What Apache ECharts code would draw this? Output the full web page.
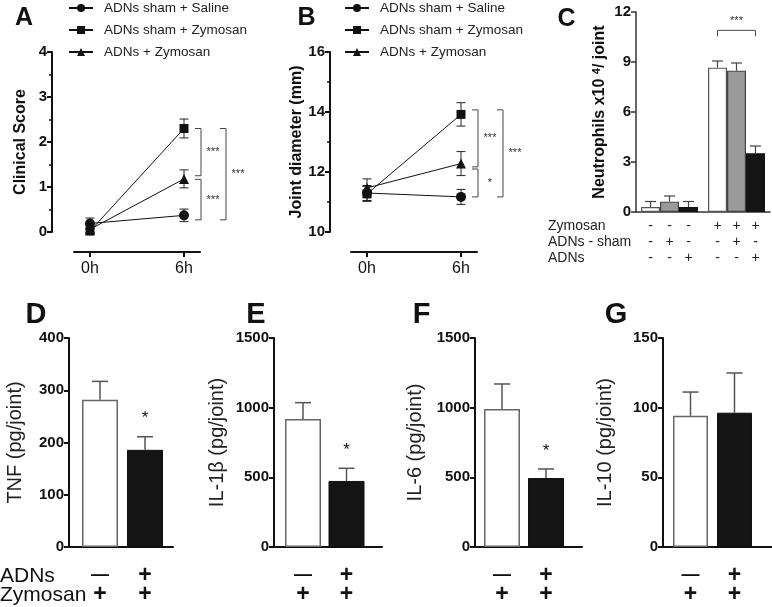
<!DOCTYPE html>
<html><head><meta charset="utf-8">
<script src="https://cdn.jsdelivr.net/npm/echarts@6/dist/echarts.min.js"></script>
<style>html,body{margin:0;padding:0;background:#fff}#c{width:772px;height:607px}</style>
</head><body><div id="c"></div>
<script>
const FONT = "'Liberation Sans', Arial, Helvetica, sans-serif";
// ---------------- Data ----------------
const timeLabels = ['0h', '6h'];
const groupNames = ['ADNs sham + Saline', 'ADNs sham + Zymosan', 'ADNs + Zymosan'];
// Panel A: clinical score
const scoreSaline = [0.19, 0.37];
const scoreSalineErr = [0.12, 0.14];
const scoreSham = [0.02, 2.3];
const scoreShamErr = [0.05, 0.21];
const scoreADNs = [0.06, 1.18];
const scoreADNsErr = [0.08, 0.2];
const scoreSig = [[2.3, 1.25], [1.17, 0.27], [2.3, 0.27]];
const scoreSigLabels = ['***', '***', '***'];
const scoreSigLevel = [0, 0, 1];
// Panel B: joint diameter
const diamSaline = [11.3, 11.17];
const diamSalineErr = [0.25, 0.25];
const diamSham = [11.27, 13.92];
const diamShamErr = [0.25, 0.39];
const diamADNs = [11.47, 12.28];
const diamADNsErr = [0.3, 0.4];
const diamSig = [[14.07, 12.17], [12.1, 11.17], [14.07, 11.17]];
const diamSigLabels = ['***', '*', '***'];
const diamSigLevel = [0, 0, 1];
// Panel C: neutrophils
const zymosanGroups = ['-', '+'];
const neutroControl = [0.3, 8.66];
const neutroControlErr = [0.33, 0.4];
const neutroSham = [0.62, 8.48];
const neutroShamErr = [0.34, 0.46];
const neutroADNs = [0.3, 3.52];
const neutroADNsErr = [0.33, 0.44];
const neutroSigValue = 10.9;
const neutroSigLabel = '***';
const rowNames = ['Zymosan', 'ADNs - sham', 'ADNs'];
const rowZymosan = ['-', '-', '-', '+', '+', '+'];
const rowSham = ['-', '+', '-', '-', '+', '-'];
const rowADNs = ['-', '-', '+', '-', '-', '+'];
// Panels D-G: cytokines
const cytoLetters = ['D', 'E', 'F', 'G'];
const cytoTitles = ['TNF (pg/joint)', 'IL-1β (pg/joint)', 'IL-6 (pg/joint)', 'IL-10 (pg/joint)'];
const cytoMax = [400, 1500, 1500, 150];
const cytoStep = [100, 500, 500, 50];
const tnf = [282, 186];
const tnfErr = [35, 25];
const il1b = [918, 474];
const il1bErr = [118, 91];
const il6 = [990, 495];
const il6Err = [180, 65];
const il10 = [94.2, 96.4];
const il10Err = [17, 28.5];
const cytoStars = [['', '*'], ['', '*'], ['', '*'], ['', '']];
const adnsRow = ['—', '+'];
const zymRow = ['+', '+'];
const bottomRowNames = ['ADNs', 'Zymosan'];

// ---------------- Build ----------------
const AX = '#111';
const chart = echarts.init(document.getElementById('c'));

const cytoVals = [tnf, il1b, il6, il10];
const cytoErrs = [tnfErr, il1bErr, il6Err, il10Err];
const cytoLayout = [
  {left: 69, w: 104, c1: 31, sp: 45, gap: 44, bw: 36},
  {left: 274, w: 108, c1: 29, sp: 43.5, gap: 47, bw: 36},
  {left: 475, w: 107, c1: 27, sp: 44, gap: 50, bw: 36},
  {left: 663, w: 109, c1: 27.5, sp: 44, gap: 48, bw: 35}
];

const grids = [
  {left: 74, top: 52, width: 126, height: 180},
  {left: 351, top: 52, width: 126, height: 180},
  {left: 636, top: 12, width: 134, height: 200}
];
cytoLayout.forEach(l => grids.push({left: l.left, top: 338, width: l.w, height: 209}));

function axisLineStyle(w, c) { return {show: true, onZero: false, lineStyle: {color: c || AX, width: w}}; }
const tickLabel = {color: AX, fontFamily: FONT, fontWeight: 'bold', fontSize: 15, margin: 5, formatter: v => String(v)};

const xAxes = [];
const yAxes = [];
// A & B x axes (detached)
[0, 1].forEach(gi => {
  xAxes.push({
    type: 'value', gridIndex: gi, min: -16 / 94, max: 1 + 16 / 94, offset: 20,
    axisLine: axisLineStyle(2),
    axisTick: {show: true, length: 5, customValues: [0, 1], lineStyle: {color: AX, width: 2}},
    axisLabel: {customValues: [0, 1], formatter: v => timeLabels[v] || '', color: AX, fontFamily: FONT, fontSize: 16, margin: 9},
    splitLine: {show: false}
  });
});
yAxes.push({
  type: 'value', gridIndex: 0, min: 0, max: 4, interval: 1, offset: 22,
  axisLine: axisLineStyle(2),
  axisTick: {show: true, length: 5, lineStyle: {color: AX, width: 2}},
  minorTick: {show: true, splitNumber: 2, length: 3, lineStyle: {color: AX, width: 1.5}},
  axisLabel: tickLabel, splitLine: {show: false},
  name: 'Clinical Score', nameLocation: 'middle', nameGap: 23,
  nameTextStyle: {fontFamily: FONT, fontWeight: 'bold', fontSize: 16, color: AX}
});
yAxes.push({
  type: 'value', gridIndex: 1, min: 10, max: 16, interval: 2, offset: 21,
  axisLine: axisLineStyle(2),
  axisTick: {show: true, length: 5, lineStyle: {color: AX, width: 2}},
  minorTick: {show: true, splitNumber: 2, length: 3, lineStyle: {color: AX, width: 1.5}},
  axisLabel: tickLabel, splitLine: {show: false},
  name: 'Joint diameter (mm)', nameLocation: 'middle', nameGap: 23,
  nameTextStyle: {fontFamily: FONT, fontWeight: 'bold', fontSize: 16, color: AX}
});
// C
xAxes.push({
  type: 'category', gridIndex: 2, data: zymosanGroups,
  axisLine: axisLineStyle(1.5, '#333'), axisTick: {show: false}, axisLabel: {show: false}
});
yAxes.push({
  type: 'value', gridIndex: 2, min: 0, max: 12, interval: 3,
  axisLine: axisLineStyle(1.5, '#333'),
  axisTick: {show: true, length: 5, lineStyle: {color: '#333', width: 1.5}},
  axisLabel: tickLabel, splitLine: {show: false},
  name: '{a|Neutrophils x10 }{s|4}{a|/ joint}', nameLocation: 'middle', nameGap: 27,
  nameTextStyle: {
    fontFamily: FONT, fontWeight: 'bold', fontSize: 16, color: AX,
    rich: {
      a: {fontFamily: FONT, fontWeight: 'bold', fontSize: 16, color: AX, lineHeight: 18},
      s: {fontFamily: FONT, fontWeight: 'bold', fontSize: 11, color: AX, verticalAlign: 'top', padding: [0, 0, 8, 0], lineHeight: 18}
    }
  }
});
// D-G
cytoLayout.forEach((l, k) => {
  const gi = 3 + k;
  xAxes.push({
    type: 'value', gridIndex: gi, min: -l.c1 / l.sp, max: (l.w - l.c1) / l.sp,
    axisLine: axisLineStyle(2),
    axisTick: {show: false},
    axisLabel: {
      customValues: [0, 1], margin: 19,
      formatter: v => '{' + (adnsRow[v] === '—' ? 'd' : 'p') + '|' + adnsRow[v] + '}\n{p|' + zymRow[v] + '}',
      rich: {
        p: {fontFamily: FONT, fontWeight: 'bold', fontSize: 23, lineHeight: 19, color: AX},
        d: {fontFamily: FONT, fontWeight: 'bold', fontSize: 18, lineHeight: 19, color: AX}
      }
    },
    splitLine: {show: false}
  });
  yAxes.push({
    type: 'value', gridIndex: gi, min: 0, max: cytoMax[k], interval: cytoStep[k],
    axisLine: axisLineStyle(2),
    axisTick: {show: true, length: 5, lineStyle: {color: AX, width: 2}},
    axisLabel: tickLabel, splitLine: {show: false},
    name: cytoTitles[k], nameLocation: 'middle', nameGap: l.gap,
    nameTextStyle: {fontFamily: FONT, fontSize: 20, color: '#222'}
  });
});

// renderers
function errorRenderer(cfg) {
  return function (params, api) {
    const x = api.value(0), m = api.value(1), e = api.value(2);
    const c = api.coord([x, m]);
    const top = api.coord([x, m + e])[1];
    const bot = api.coord([x, m - e])[1];
    let cx = c[0];
    if (cfg.barOffset) cx += cfg.barOffset(params, api);
    const h = cfg.cap;
    const ls = {stroke: cfg.color, lineWidth: cfg.width};
    const ch = [
      {type: 'line', shape: {x1: cx, y1: cfg.upOnly ? c[1] : bot, x2: cx, y2: top}, style: ls},
      {type: 'line', shape: {x1: cx - h, y1: top, x2: cx + h, y2: top}, style: ls}
    ];
    if (!cfg.upOnly) ch.push({type: 'line', shape: {x1: cx - h, y1: bot, x2: cx + h, y2: bot}, style: ls});
    if (cfg.stars && cfg.stars[params.dataIndex]) {
      ch.push({type: 'text', style: {text: cfg.stars[params.dataIndex], x: cx, y: top - 18, align: 'center', verticalAlign: 'middle', fontSize: 17, fontFamily: FONT, fill: AX}});
    }
    return {type: 'group', children: ch};
  };
}
function bracketRenderer(pairs, labels, levels) {
  const offs = [17, 42];
  return function (params, api) {
    const i = params.dataIndex;
    const x0 = api.coord([api.value(0), pairs[i][0]])[0];
    const y1 = api.coord([api.value(0), pairs[i][0]])[1];
    const y2 = api.coord([api.value(0), pairs[i][1]])[1];
    const bx = x0 + offs[levels[i]];
    const len = 6;
    return {type: 'group', children: [
      {type: 'polyline', shape: {points: [[bx - len, y1], [bx, y1], [bx, y2], [bx - len, y2]]}, style: {stroke: '#444', lineWidth: 1, fill: null}},
      {type: 'text', style: {text: labels[i], x: bx + 12, y: (y1 + y2) / 2, align: 'center', verticalAlign: 'middle', fontSize: 11, fontFamily: FONT, fill: '#333'}}
    ]};
  };
}

const series = [];
const symbols = ['circle', 'rect', 'triangle'];
const symSizes = [10, 9, 10];
const scoreSets = [[scoreSaline, scoreSalineErr], [scoreSham, scoreShamErr], [scoreADNs, scoreADNsErr]];
const diamSets = [[diamSaline, diamSalineErr], [diamSham, diamShamErr], [diamADNs, diamADNsErr]];
[[scoreSets, 0], [diamSets, 1]].forEach(([sets, gi]) => {
  const errData = [];
  sets.forEach((s, g) => {
    series.push({
      type: 'line', name: groupNames[g], xAxisIndex: gi, yAxisIndex: gi,
      data: s[0].map((v, t) => [t, v]),
      symbol: symbols[g], symbolSize: symSizes[g], showSymbol: true,
      lineStyle: {color: '#111', width: 1}, itemStyle: {color: '#111'}, z: 3
    });
    s[0].forEach((v, t) => errData.push([t, v, s[1][t]]));
  });
  series.push({type: 'custom', xAxisIndex: gi, yAxisIndex: gi, data: errData, z: 2,
    renderItem: errorRenderer({cap: 4.5, color: '#222', width: 1})});
});
series.push({type: 'custom', xAxisIndex: 0, yAxisIndex: 0, data: scoreSig.map(p => [1, p[0]]),
  renderItem: bracketRenderer(scoreSig, scoreSigLabels, scoreSigLevel)});
series.push({type: 'custom', xAxisIndex: 1, yAxisIndex: 1, data: diamSig.map(p => [1, p[0]]),
  renderItem: bracketRenderer(diamSig, diamSigLabels, diamSigLevel)});

// C bars
const cSets = [[neutroControl, neutroControlErr, '#ffffff', '#555'], [neutroSham, neutroShamErr, '#9a9a9a', '#444'], [neutroADNs, neutroADNsErr, '#141414', '#111']];
const barGapFrac = 0.15;
const cOffset = (bi) => (params, api) => (bi - 1) * api.size([1, 0])[0] * (1 - barGapFrac) / 3;
cSets.forEach((s, bi) => {
  series.push({type: 'bar', xAxisIndex: 2, yAxisIndex: 2, data: s[0], barGap: '0%', barCategoryGap: (barGapFrac * 100) + '%',
    itemStyle: {color: s[2], borderColor: s[3], borderWidth: 1.2}, z: 2});
  series.push({type: 'custom', xAxisIndex: 2, yAxisIndex: 2, data: s[0].map((v, c) => [c, v, s[1][c]]), z: 3,
    renderItem: errorRenderer({cap: 5.5, color: '#444', width: 1.2, upOnly: true, barOffset: cOffset(bi)})});
});
// C significance bracket
series.push({type: 'custom', xAxisIndex: 2, yAxisIndex: 2, data: [[1, neutroSigValue]],
  renderItem: function (params, api) {
    const p = api.coord([api.value(0), api.value(1)]);
    const bw = api.size([1, 0])[0] * (1 - barGapFrac) / 3;
    const x1 = p[0] - bw, x2 = p[0] + bw;
    return {type: 'group', children: [
      {type: 'polyline', shape: {points: [[x1, p[1] + 6], [x1, p[1]], [x2, p[1]], [x2, p[1] + 6]]}, style: {stroke: '#444', lineWidth: 1, fill: null}},
      {type: 'text', style: {text: neutroSigLabel, x: p[0], y: p[1] - 9, align: 'center', verticalAlign: 'middle', fontSize: 11, fontFamily: FONT, fill: '#333'}}
    ]};
  }});
// C sign table below axis
const signRows = [rowZymosan, rowSham, rowADNs];
const signData = [];
signRows.forEach((row, r) => row.forEach((s, j) => signData.push([Math.floor(j / 3), 0])));
series.push({type: 'custom', xAxisIndex: 2, yAxisIndex: 2, data: signData,
  renderItem: function (params, api) {
    const i = params.dataIndex;
    const r = Math.floor(i / 6), j = i % 6, bi = j % 3;
    const p = api.coord([api.value(0), 0]);
    const bw = api.size([1, 0])[0] * (1 - barGapFrac) / 3;
    return {type: 'text', style: {text: signRows[r][j], x: p[0] + (bi - 1) * bw, y: p[1] + 14 + r * 16.3,
      align: 'center', verticalAlign: 'middle', fontSize: 14, fontFamily: FONT, fill: '#222'}};
  }});

// D-G bars
cytoLayout.forEach((l, k) => {
  const gi = 3 + k;
  series.push({type: 'bar', xAxisIndex: gi, yAxisIndex: gi, barWidth: l.bw,
    data: cytoVals[k].map((v, i) => ({value: [i, v], itemStyle: i === 0 ? {color: '#fff', borderColor: '#666', borderWidth: 1.5} : {color: '#141414', borderColor: '#111', borderWidth: 1}})),
    z: 2});
  series.push({type: 'custom', xAxisIndex: gi, yAxisIndex: gi, z: 3,
    data: cytoVals[k].map((v, i) => [i, v, cytoErrs[k][i]]),
    renderItem: errorRenderer({cap: 8, color: '#555', width: 1.5, upOnly: true, stars: cytoStars[k]})});
});

// text graphics
const letterStyle = (t, x, y, fs) => ({type: 'text', x: x, y: y, style: {text: t, align: 'center', verticalAlign: 'middle', fontSize: fs, fontWeight: 'bold', fontFamily: FONT, fill: AX}});
const graphics = [
  letterStyle('A', 24, 18.5, 25), letterStyle('B', 306.5, 18.5, 25), letterStyle('C', 566.5, 19.5, 25)
];
const cytoLetterX = [36, 256, 421.5, 616];
cytoLetters.forEach((t, k) => graphics.push(letterStyle(t, cytoLetterX[k], 315, 29)));
rowNames.forEach((t, r) => graphics.push({type: 'text', x: 548, y: 225.7 + r * 16.3, style: {text: t, align: 'left', verticalAlign: 'middle', fontSize: 14, fontFamily: FONT, fill: '#222'}}));
bottomRowNames.forEach((t, r) => graphics.push({type: 'text', x: 0, y: 576 + r * 19, style: {text: t, align: 'left', verticalAlign: 'middle', fontSize: 21, fontFamily: FONT, fill: AX}}));

const legendBase = (left) => ({
  left: left, top: 1, padding: 0, orient: 'vertical', itemWidth: 24, itemHeight: 10, itemGap: 8,
  selectedMode: false, data: groupNames,
  textStyle: {fontSize: 13.5, color: '#222', fontFamily: FONT, padding: [0, 0, 0, 6]}
});

chart.setOption({
  animation: false,
  backgroundColor: '#fff',
  textStyle: {fontFamily: FONT},
  grid: grids,
  xAxis: xAxes,
  yAxis: yAxes,
  legend: [legendBase(68), legendBase(344)],
  series: series,
  graphic: graphics
});
</script></body></html>
